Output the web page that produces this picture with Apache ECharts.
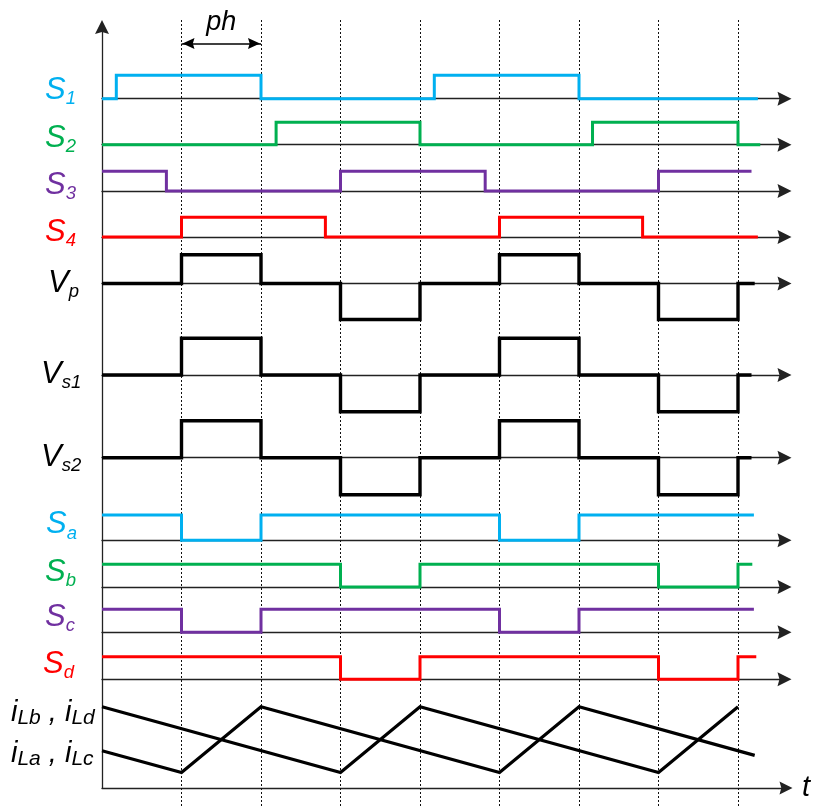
<!DOCTYPE html>
<html>
<head>
<meta charset="utf-8">
<script src="https://cdn.jsdelivr.net/npm/echarts@6/dist/echarts.min.js"></script>
<style>
  html, body { margin: 0; padding: 0; background: #fff; }
  #chart { width: 815px; height: 808px; }
</style>
</head>
<body>
<div id="chart"></div>
<script>
// Switching instants shared by all waveforms (time in switching half-periods)
const switchTimes = [1, 2, 3, 4, 5, 6, 7, 8];
// Phase shift "ph" between primary and secondary bridges
const phaseShift = [1, 2];

// Gate signals as [time, level] pairs; each level holds until the next pair
const S1 = [[0, 0], [0.18, 1], [2, 0], [4.18, 1], [6, 0], [8.25, 0]];
const S2 = [[0, 0], [2.19, 1], [4, 0], [6.17, 1], [8, 0], [8.28, 0]];
const S3 = [[0, 1], [0.81, 0], [3, 1], [4.82, 0], [7, 1], [8.17, 1]];
const S4 = [[0, 0], [1, 1], [2.81, 0], [5, 1], [6.8, 0], [8.25, 0]];

// Transformer voltages (normalised)
const Vp  = [[0, 0], [1, 0.8], [2, 0], [3, -1], [4, 0], [5, 0.8], [6, 0], [7, -1], [8, 0], [8.21, 0]];
const Vs1 = [[0, 0], [1, 1], [2, 0], [3, -1], [4, 0], [5, 1], [6, 0], [7, -1], [8, 0], [8.17, 0]];
const Vs2 = [[0, 0], [1, 1], [2, 0], [3, -1], [4, 0], [5, 1], [6, 0], [7, -1], [8, 0], [8.17, 0]];

// Secondary-side switch signals
const Sa = [[0, 1], [1, 0], [2, 1], [5, 0], [6, 1], [8.2, 1]];
const Sb = [[0, 1], [3, 0], [4, 1], [7, 0], [8, 1], [8.18, 1]];
const Sc = [[0, 1], [1, 0], [2, 1], [5, 0], [6, 1], [8.2, 1]];
const Sd = [[0, 1], [3, 0], [4, 1], [7, 0], [8, 1], [8.23, 1]];

// Inductor currents (normalised: valley 0, peak 1)
const iLbd = [[0, 1], [3, 0], [4, 1], [7, 0], [8, 1]];
const iLac = [[0, 0.33], [1, 0], [2, 1], [5, 0], [6, 1], [8.21, 0.26]];

// ---------- layout ----------
const PLOT_LEFT = 102;
const UNIT = 79.5;            // px per time unit
const PLOT_W = 682.5;
const X_MAX = PLOT_W / UNIT;
const FONT = '"Liberation Sans", Arial, Helvetica, sans-serif';
// filled arrow head pointing up (rotated by the axis / mark line)
const HEAD = 'path://M5,0 L10,10 L5,8.6 L0,10 Z';

const CYAN = '#00b0f0', GREEN = '#00b050', PURPLE = '#7030a0', RED = '#ff0000', BLACK = '#000';

const rows = [
  { data: [S1],  color: CYAN,   top: 75.3,  height: 23.4, min: 0,  max: 1, width: 3 },
  { data: [S2],  color: GREEN,  top: 122.3, height: 22.4, min: 0,  max: 1, width: 3 },
  { data: [S3],  color: PURPLE, top: 171.3, height: 19.7, min: 0,  max: 1, width: 3 },
  { data: [S4],  color: RED,    top: 217.3, height: 19.7, min: 0,  max: 1, width: 3 },
  { data: [Vp],  color: BLACK,  top: 247.5, height: 72,   min: -1, max: 1, width: 3.4 },
  { data: [Vs1], color: BLACK,  top: 338.3, height: 73.4, min: -1, max: 1, width: 3.4 },
  { data: [Vs2], color: BLACK,  top: 420.7, height: 74,   min: -1, max: 1, width: 3.4 },
  { data: [Sa],  color: CYAN,   top: 515,   height: 25.3, min: 0,  max: 1, width: 3 },
  { data: [Sb],  color: GREEN,  top: 564.3, height: 22.7, min: 0,  max: 1, width: 3 },
  { data: [Sc],  color: PURPLE, top: 609.3, height: 23,   min: 0,  max: 1, width: 3 },
  { data: [Sd],  color: RED,    top: 656.7, height: 22.6, min: 0,  max: 1, width: 3 },
  { data: [iLbd, iLac], color: BLACK, top: 706.7, height: 65.8, min: 0, max: 1, width: 3.2, noAxis: true, linear: true }
];

const grid = [], xAxis = [], yAxis = [], series = [];

rows.forEach((r, i) => {
  grid.push({ left: PLOT_LEFT, top: r.top, width: PLOT_W, height: r.height });
  xAxis.push({
    gridIndex: i, type: 'value', min: 0, max: X_MAX,
    axisLine: { show: !r.noAxis, symbol: ['none', HEAD], symbolSize: [14, 15],
                lineStyle: { color: '#222', width: 1.3 } },
    axisTick: { show: false }, axisLabel: { show: false }, splitLine: { show: false }
  });
  yAxis.push({ gridIndex: i, type: 'value', min: r.min, max: r.max, show: false });
  r.data.forEach(d => {
    series.push({
      type: 'line', xAxisIndex: i, yAxisIndex: i, data: d,
      step: r.linear ? false : 'end', showSymbol: false, clip: false, z: 5,
      lineStyle: { color: r.color, width: r.width, join: 'miter', cap: 'butt' }
    });
  });
});

// Main frame: vertical axis and time axis with arrows
const frameIdx = grid.length;
grid.push({ left: PLOT_LEFT, top: 27, width: 684, height: 761 });
xAxis.push({
  gridIndex: frameIdx, type: 'value', min: 0, max: 1,
  name: 't', nameLocation: 'end', nameGap: 16,
  nameTextStyle: { fontSize: 29, fontStyle: 'italic', fontFamily: FONT, color: '#000' },
  axisLine: { show: true, symbol: ['none', HEAD], symbolSize: [13, 14], lineStyle: { color: '#222', width: 1.3 } },
  axisTick: { show: false }, axisLabel: { show: false }, splitLine: { show: false }
});
yAxis.push({
  gridIndex: frameIdx, type: 'value', min: 0, max: 1,
  axisLine: { show: true, symbol: ['none', HEAD], symbolSize: [15, 14], lineStyle: { color: '#222', width: 1.3 } },
  axisTick: { show: false }, axisLabel: { show: false }, splitLine: { show: false }
});

// Dotted guides at the switching instants
const dotIdx = grid.length;
grid.push({ left: PLOT_LEFT, top: 18, width: PLOT_W, height: 788 });
xAxis.push({ gridIndex: dotIdx, type: 'value', min: 0, max: X_MAX, show: false });
yAxis.push({ gridIndex: dotIdx, type: 'value', min: 0, max: 1, show: false });
series.push({
  type: 'line', xAxisIndex: dotIdx, yAxisIndex: dotIdx, data: [], z: 1,
  markLine: {
    silent: true, symbol: 'none', animation: false,
    label: { show: false },
    lineStyle: { color: '#111', width: 1, type: [2, 2] },
    data: switchTimes.map(t => ({ xAxis: t }))
  }
});

// Phase-shift annotation
const phIdx = grid.length;
grid.push({ left: PLOT_LEFT, top: 30, width: PLOT_W, height: 27 });
xAxis.push({ gridIndex: phIdx, type: 'value', min: 0, max: X_MAX, show: false });
yAxis.push({ gridIndex: phIdx, type: 'value', min: 0, max: 1, show: false });
series.push({
  type: 'line', xAxisIndex: phIdx, yAxisIndex: phIdx, data: [], z: 6,
  markLine: {
    silent: true, animation: false,
    symbol: [HEAD, HEAD], symbolSize: [11, 12],
    symbolOffset: [[0, 7], [0, 7]],
    lineStyle: { color: '#000', width: 1.6, type: 'solid' },
    label: { show: true, position: 'middle', formatter: 'ph', distance: 8,
             fontSize: 27, fontStyle: 'italic', fontFamily: FONT, color: '#000' },
    data: [[{ coord: [phaseShift[0], 0.5] }, { coord: [phaseShift[1], 0.5] }]]
  }
});

// ---------- row labels with subscripts ----------
const measureCtx = document.createElement('canvas').getContext('2d');
function textW(str, size) {
  measureCtx.font = 'italic ' + size + 'px ' + FONT;
  return measureCtx.measureText(str).width;
}
const MID = 0.3465; // canvas "middle" offset above the alphabetic baseline, in em

function label(parts, left, baseline, color, mainSize, subSize, subDrop) {
  const els = [];
  let x = left;
  parts.forEach(([txt, sub]) => {
    const size = sub ? subSize : mainSize;
    const base = sub ? baseline + subDrop : baseline;
    els.push({
      type: 'text', x: x, y: base - MID * size, silent: true,
      style: { text: txt, font: 'italic ' + size + 'px ' + FONT, fill: color,
               textAlign: 'left', textVerticalAlign: 'middle' }
    });
    x += textW(txt, size);
  });
  return els;
}

const M = 31, SUB = 18.5;
const graphic = [].concat(
  label([['S', 0], ['1', 1]], 45, 101.5, CYAN, M, SUB, 4),
  label([['S', 0], ['2', 1]], 45, 149, GREEN, M, SUB, 4),
  label([['S', 0], ['3', 1]], 45, 196.5, PURPLE, M, SUB, 4),
  label([['S', 0], ['4', 1]], 45, 243, RED, M, SUB, 4),
  label([['V', 0], ['p', 1]], 48, 294, BLACK, M, SUB, 4),
  label([['V', 0], ['s1', 1]], 41, 385, BLACK, M, SUB, 4),
  label([['V', 0], ['s2', 1]], 41, 468, BLACK, M, SUB, 4),
  label([['S', 0], ['a', 1]], 46, 535, CYAN, M, SUB, 5),
  label([['S', 0], ['b', 1]], 45, 583, GREEN, M, SUB, 4),
  label([['S', 0], ['c', 1]], 45, 628, PURPLE, M, SUB, 4),
  label([['S', 0], ['d', 1]], 43, 675, RED, M, SUB, 4),
  label([['i', 0], ['Lb', 1], [' , ', 0], ['i', 0], ['Ld', 1]], 11, 723, BLACK, 29, 21, 2),
  label([['i', 0], ['La', 1], [' , ', 0], ['i', 0], ['Lc', 1]], 11, 764, BLACK, 29, 21, 2)
);

const chart = echarts.init(document.getElementById('chart'), null, { renderer: 'canvas' });
chart.setOption({
  animation: false,
  backgroundColor: '#fff',
  grid, xAxis, yAxis, series, graphic
});
</script>
</body>
</html>
